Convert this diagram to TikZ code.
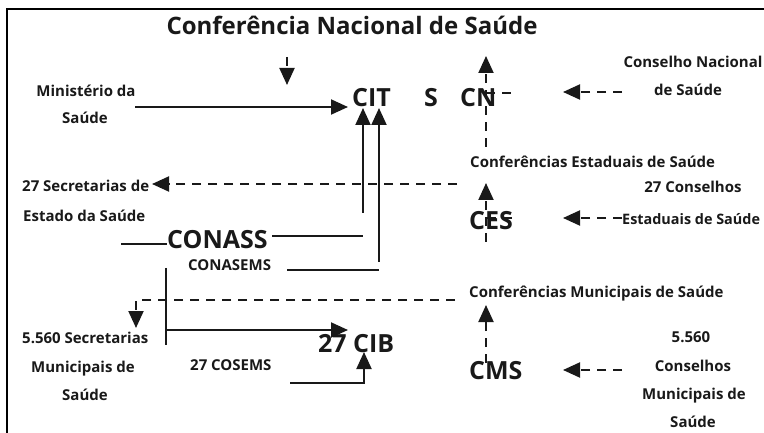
\documentclass[tikz,border=0pt]{standalone}
\usepackage{fontspec}
\setmainfont{Open Sans}
\usetikzlibrary{arrows.meta}
\begin{document}
\begin{tikzpicture}[x=1pt,y=-1pt,
  sm/.style={font=\bfseries\fontsize{15}{15}\selectfont, inner sep=0pt, text=black!90},
  big/.style={font=\bfseries\fontsize{25}{25}\selectfont, inner sep=0pt, text=black!90},
  ttl/.style={font=\bfseries\fontsize{24}{24}\selectfont, inner sep=0pt, text=black!90},
  ln/.style={line width=2pt, draw=black!90},
  dsh/.style={line width=2pt, draw=black!90, dash pattern=on 9pt off 7pt},
  tip/.style={-{Triangle[length=17pt,width=15pt]}}]
\useasboundingbox (0,0) rectangle (764,433);
% frame
\draw[line width=1.3pt] (7,433) -- (7,9) -- (764,9);
% texts
\node[ttl, anchor=base] (title) at (352,35) {Conferência Nacional de Saúde};
\node[sm, anchor=base] (ms1) at (86,97) {Ministério da};
\node[sm, anchor=base] (ms2) at (85,124) {Saúde};
\node[big, anchor=base west] (cit) at (352,107) {CIT};
\node[big, anchor=base] (s) at (431,107) {S};
\node[big, anchor=base west] (cn) at (460,107) {CN};
\node[sm, anchor=base] (cns1) at (693,68) {Conselho Nacional};
\node[sm, anchor=base] (cns2) at (688,96) {de Saúde};
\node[sm, anchor=base west] (ces0) at (470,168) {Conferências Estaduais de Saúde};
\node[sm, anchor=base west] (sec1) at (22,192) {27 Secretarias de};
\node[sm, anchor=base west] (sec2) at (23,222) {Estado da Saúde};
\node[sm, anchor=base] (cest1) at (693,193) {27 Conselhos};
\node[big, anchor=base west] (ces) at (469,230) {CES};
\node[sm, anchor=base west, font=\bfseries\fontsize{14.4}{14.4}\selectfont] (cest2) at (622,225) {Estaduais de Saúde};
\node[big, anchor=base west] (conass) at (167,248) {CONASS};
\node[sm, anchor=base west] (conasems) at (188,270) {CONASEMS};
\node[sm, anchor=base west] (cms0) at (469,298) {Conferências Municipais de Saúde};
\node[sm, anchor=base west] (smun1) at (22,343) {5.560 Secretarias};
\node[sm, anchor=base] (smun2) at (83,372) {Municipais de};
\node[sm, anchor=base] (smun3) at (85,400) {Saúde};
\node[big, anchor=base west] (cib) at (318,352) {27 CIB};
\node[sm, anchor=base west] (cosems) at (190,370) {27 COSEMS};
\node[big, anchor=base west] (cms) at (469,379) {CMS};
\node[sm, anchor=base] (cm1) at (691,342) {5.560};
\node[sm, anchor=base] (cm2) at (693,371) {Conselhos};
\node[sm, anchor=base] (cm3) at (694,399) {Municipais de};
\node[sm, anchor=base] (cm4) at (693,427) {Saúde};
% coordinates
\coordinate (t1) at (287,57);  \coordinate (t2) at (287,85);
\coordinate (m1) at (135,107); \coordinate (m2) at (348,107);
\coordinate (u1a) at (363,213); \coordinate (u1b) at (363,108);
\coordinate (u2a) at (379,262); \coordinate (u2b) at (379,108);
\coordinate (ca1) at (272,236); \coordinate (ca2) at (363,236);
\coordinate (cl1) at (121,244); \coordinate (cl2) at (167,244);
\coordinate (ce1) at (287,270); \coordinate (ce2) at (379,270);
\coordinate (v1) at (166,268); \coordinate (v2) at (166,345);
\coordinate (h1) at (166,330); \coordinate (h2) at (348,330);
\coordinate (cb1) at (290,383); \coordinate (cb2) at (364,383); \coordinate (cb3) at (364,352);
\coordinate (dm1) at (455,300); \coordinate (dm2) at (136,300); \coordinate (dm3) at (136,328);
\coordinate (ds1) at (457,184); \coordinate (ds2) at (152,184);
\coordinate (cv1) at (486,147); \coordinate (cv2) at (486,56);
\coordinate (cd1) at (486,93); \coordinate (cd2) at (517,93);
\coordinate (ra1) at (622,92); \coordinate (ra2) at (563,92);
\coordinate (ev1) at (486,242); \coordinate (ev2) at (486,183);
\coordinate (ed1) at (487,218); \coordinate (ed2) at (515,218);
\coordinate (ea1) at (622,218); \coordinate (ea2) at (563,218);
\coordinate (mv1) at (486,363); \coordinate (mv2) at (486,305);
\coordinate (ma1) at (622,370); \coordinate (ma2) at (563,370);
% solid connectors
\draw[ln, tip] (m1) -- (m2);
\draw[ln, tip] (u1a) -- (u1b);
\draw[ln, tip] (u2a) -- (u2b);
\draw[ln] (ca1) -- (ca2);
\draw[ln] (cl1) -- (cl2);
\draw[ln] (ce1) -- (ce2);
\draw[ln] (v1) -- (v2);
\draw[ln, tip] (h1) -- (h2);
\draw[ln, tip] (cb1) -- (cb2) -- (cb3);
% dashed connectors
\draw[dsh, tip] (t1) -- (t2);
\draw[dsh, tip] (dm1) -- (dm2) -- (dm3);
\draw[dsh, tip] (ds1) -- (ds2);
\draw[dsh, tip] (cv1) -- (cv2);
\draw[dsh] (cd1) -- (cd2);
\draw[dsh, tip] (ra1) -- (ra2);
\draw[dsh, tip] (ev1) -- (ev2);
\draw[dsh] (ed1) -- (ed2);
\draw[dsh, tip] (ea1) -- (ea2);
\draw[dsh, tip] (mv1) -- (mv2);
\draw[dsh, tip] (ma1) -- (ma2);
\end{tikzpicture}
\end{document}
